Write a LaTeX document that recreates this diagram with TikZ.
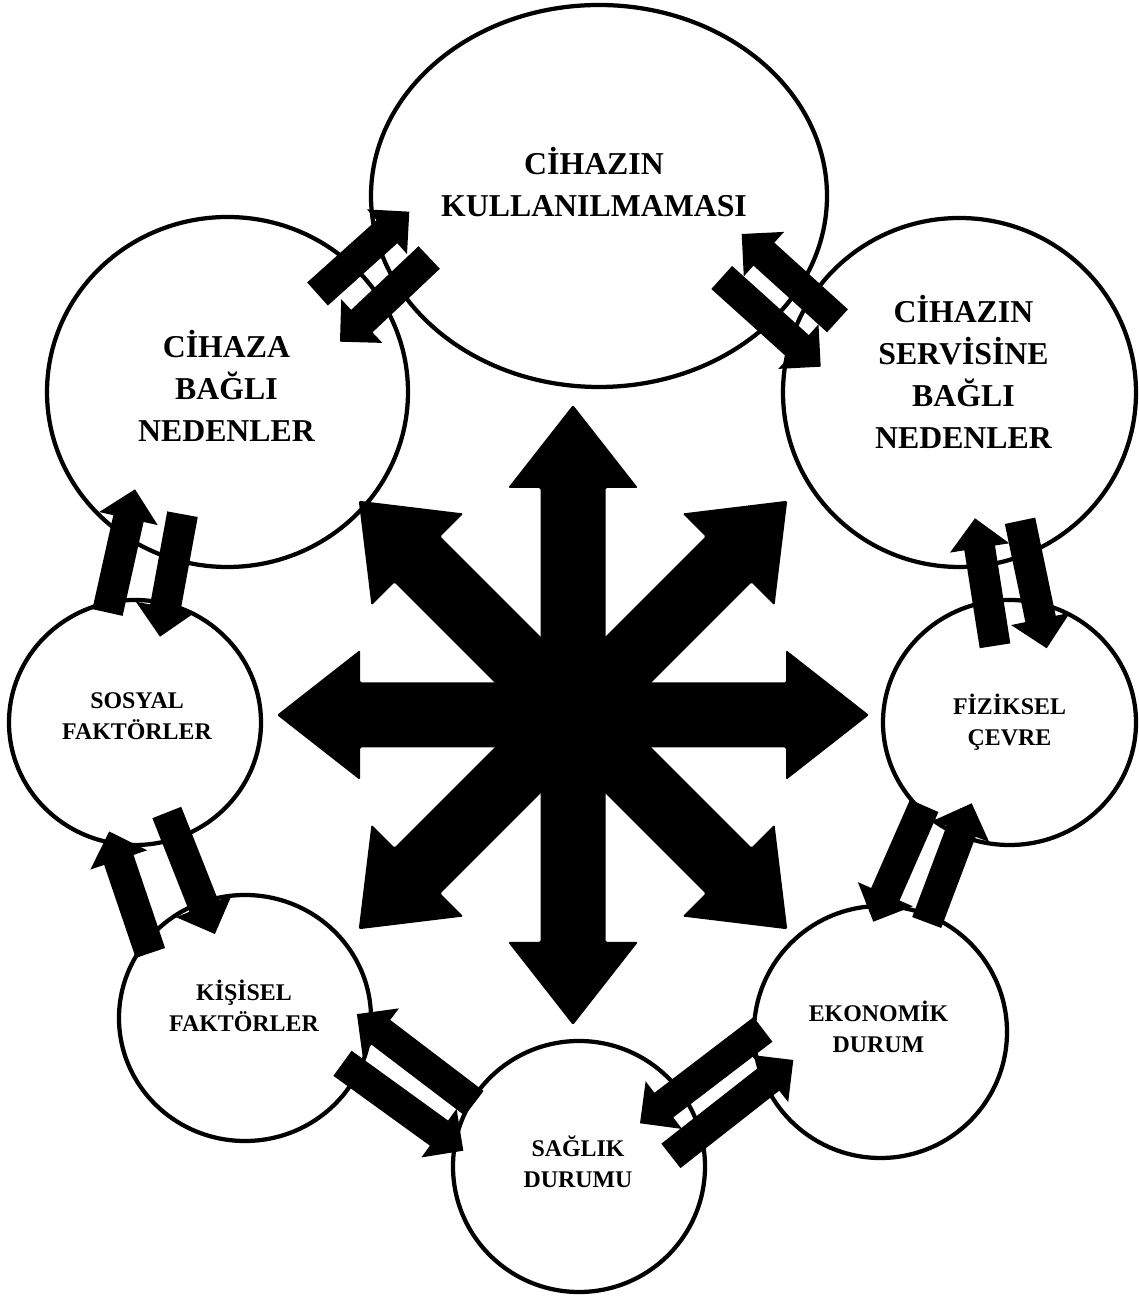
\documentclass[tikz,border=0pt]{standalone}
\usepackage{fontspec}
\setmainfont{Liberation Serif}
\usetikzlibrary{calc,shapes.geometric}

\tikzset{
  oval/.style={draw,ellipse,line width=0.85mm,inner sep=0pt},
  bigtext/.style={align=center,font=\fontsize{18.1}{23.9}\selectfont\bfseries},
  smalltext/.style={align=center,font=\fontsize{13.6}{17.6}\selectfont\bfseries},
  % block arrow from tail to tip
  fatarrow/.style={fill=black,to path={
    let \p1=($(\tikztotarget)-(\tikztostart)$), \n1={atan2(\y1,\x1)} in
    ($(\tikztostart)+(\n1+90:3.1mm)$)
    -- ($(\tikztotarget)+(\n1+180:6mm)+(\n1+90:3.1mm)$)
    -- ($(\tikztotarget)+(\n1+180:6mm)+(\n1+90:6mm)$)
    -- (\tikztotarget)
    -- ($(\tikztotarget)+(\n1+180:6mm)+(\n1-90:6mm)$)
    -- ($(\tikztotarget)+(\n1+180:6mm)+(\n1-90:3.1mm)$)
    -- ($(\tikztostart)+(\n1-90:3.1mm)$) -- cycle}},
}

\begin{document}
\begin{tikzpicture}[x=0.2mm,y=0.2mm]
  \useasboundingbox (0,0) rectangle (1139,1296);

  % the eight ovals
  \node[oval,minimum width=91.2mm,minimum height=76.4mm] (KUL) at (599,1100) {};
  \node[oval,minimum width=72.2mm,minimum height=70mm]   (CIH) at (227.5,904) {};
  \node[oval,minimum width=70.6mm,minimum height=69.8mm] (SER) at (959.5,903.5) {};
  \node[oval,minimum width=50.4mm,minimum height=49mm]   (SOS) at (135,573.5) {};
  \node[oval,minimum width=50.6mm,minimum height=49mm]   (FIZ) at (1009.5,573.5) {};
  \node[oval,minimum width=50.4mm,minimum height=49.2mm] (KIS) at (245,278) {};
  \node[oval,minimum width=50.6mm,minimum height=50.4mm] (EKO) at (880.5,264) {};
  \node[oval,minimum width=50.4mm,minimum height=50.2mm] (SAG) at (579,129.5) {};

  \node[bigtext] (KULt) at ($(KUL)+(-5,14)$) {CİHAZIN\\KULLANILMAMASI};
  \node[bigtext] (CIHt) at ($(CIH)+(-1,6)$) {CİHAZA\\BAĞLI\\NEDENLER};
  \node[bigtext] (SERt) at ($(SER)+(4,21)$) {CİHAZIN\\SERVİSİNE\\BAĞLI\\NEDENLER};
  \node[smalltext] (SOSt) at ($(SOS)+(2,6)$) {SOSYAL\\FAKTÖRLER};
  \node[smalltext] (FIZt) at ($(FIZ)+(0,0)$) {FİZİKSEL\\ÇEVRE};
  \node[smalltext] (KISt) at ($(KIS)+(-1,12)$) {KİŞİSEL\\FAKTÖRLER};
  \node[smalltext] (EKOt) at ($(EKO)+(-2,5)$) {EKONOMİK\\DURUM};
  \node[smalltext] (SAGt) at ($(SAG)+(-1,5)$) {SAĞLIK\\DURUMU};

  % star in the middle
  \coordinate (STAR) at (573,581);
  \foreach \a/\l in {0/296,45/303,90/310,135/303}
    \fill[shift={(STAR)},rotate=\a,rounded corners=0.3mm]
      (-\l,0) -- (-\l+83,65) -- (-\l+83,32.5) -- (\l-83,32.5) -- (\l-83,65) -- (\l,0)
      -- (\l-83,-65) -- (\l-83,-32.5) -- (-\l+83,-32.5) -- (-\l+83,-65) -- cycle;

  % arrow pairs: tail (t..) and tip (h..)
  \coordinate (tA1) at (317.5,1002);  \coordinate (hA1) at (409.3,1084.3);
  \coordinate (tA2) at (429.2,1038.5); \coordinate (hA2) at (340,954.3);
  \coordinate (tB1) at (837.5,975.2);  \coordinate (hB1) at (741.7,1062);
  \coordinate (tB2) at (721.7,1018.5); \coordinate (hB2) at (820.7,929.3);
  \coordinate (tC1) at (107.5,683.5);  \coordinate (hC1) at (135,806.7);
  \coordinate (tC2) at (182.5,781.8);  \coordinate (hC2) at (160,659.3);
  \coordinate (tD1) at (995,650.2);    \coordinate (hD1) at (975,777.7);
  \coordinate (tD2) at (1020,775.2);   \coordinate (hD2) at (1046.7,647.7);
  \coordinate (tE1) at (150.4,343);    \coordinate (hE1) at (109.2,464.5);
  \coordinate (tE2) at (166.8,483.5);  \coordinate (hE2) at (214.9,362);
  \coordinate (tF1) at (924.2,490.2);  \coordinate (hF1) at (873.3,374.3);
  \coordinate (tF2) at (926.7,373.5);  \coordinate (hF2) at (971.7,492.7);
  \coordinate (tG1) at (474.2,192.7);  \coordinate (hG1) at (356.9,281.9);
  \coordinate (tG2) at (342.5,232.7);  \coordinate (hG2) at (463.3,145.3);
  \coordinate (tH1) at (763,266.6);    \coordinate (hH1) at (640,172.7);
  \coordinate (tH2) at (670.9,140.1);  \coordinate (hH2) at (793.3,236);

  \foreach \k in {A1,A2,B1,B2,C1,C2,D1,D2,E1,E2,F1,F2,G1,G2,H1,H2}
    \path[fatarrow] (t\k) to (h\k);
\end{tikzpicture}
\end{document}
